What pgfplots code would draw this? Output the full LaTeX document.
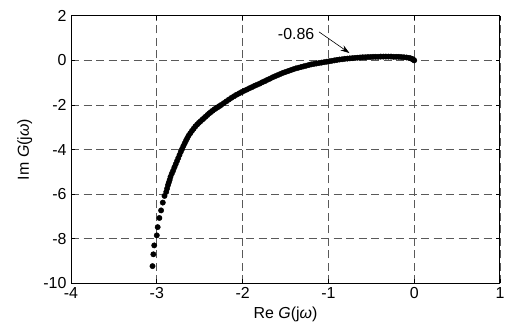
\documentclass[border=0pt]{standalone}
\usepackage{fontspec}
\setmainfont{Liberation Sans}
\usepackage{pgfplots}
\pgfplotsset{compat=1.18}
\usetikzlibrary{arrows.meta}
\begin{document}
\begin{tikzpicture}
\useasboundingbox (0,0) rectangle (505bp,331bp);
\begin{axis}[
  at={(71bp,47.7bp)}, anchor=south west,
  scale only axis, width=429bp, height=267.5bp,
  xmin=-4, xmax=1, ymin=-10, ymax=2,
  xtick={-4,-3,-2,-1,0,1}, xticklabels={-4,-3,-2,-1,0,1},
  ytick={-10,-8,-6,-4,-2,0,2}, yticklabels={-10,-8,-6,-4,-2,0,2},
  grid=major,
  major grid style={dash pattern=on 8bp off 4.5bp, black!65, line width=0.8bp},
  tick align=inside, major tick length=4bp,
  axis line style={line width=1bp},
  every tick/.style={black, line width=0.8bp},
  ticklabel style={font=\fontsize{16}{18}\selectfont},
  xticklabel style={yshift=-1bp},
  yticklabel style={xshift=-1bp},
  label style={font=\fontsize{16}{18}\selectfont},
  xlabel={Re \textit{G}(j\textit{ω})}, ylabel={Im \textit{G}(j\textit{ω})},
  xlabel style={at={(axis description cs:0.5,-0.115)}, anchor=center},
  ylabel style={at={(axis description cs:-0.108,0.5)}, anchor=center},
  clip=false,
]
\addplot[only marks, mark=*, mark size=2.7bp, black] coordinates {
(-3.05,-9.23) (-3.04,-8.70) (-3.03,-8.30) (-3.00,-7.85) (-2.99,-7.48)
(-2.97,-7.07) (-2.95,-6.73) (-2.93,-6.38) (-2.91,-6.08) (-2.89,-5.90)
(-2.88,-5.75) (-2.87,-5.60) (-2.86,-5.48) (-2.85,-5.36) (-2.84,-5.22)
(-2.825,-5.08) (-2.81,-4.95) (-2.795,-4.80) (-2.78,-4.66) (-2.765,-4.52)
(-2.75,-4.38) (-2.735,-4.24) (-2.72,-4.10) (-2.705,-3.97)
(-2.69,-3.84) (-2.675,-3.72) (-2.66,-3.60) (-2.645,-3.49) (-2.63,-3.38)
(-2.61,-3.27) (-2.59,-3.16) (-2.57,-3.06) (-2.55,-2.96) (-2.53,-2.88)
(-2.51,-2.80) (-2.49,-2.73) (-2.47,-2.66) (-2.45,-2.59) (-2.43,-2.52)
(-2.41,-2.45) (-2.39,-2.38) (-2.37,-2.32) (-2.35,-2.26) (-2.33,-2.20)
(-2.31,-2.15) (-2.29,-2.10) (-2.27,-2.05) (-2.25,-2.00)
(-2.22,-1.92) (-2.19,-1.84) (-2.16,-1.76) (-2.13,-1.68) (-2.10,-1.61)
(-2.07,-1.54) (-2.04,-1.48) (-2.01,-1.42) (-1.98,-1.36) (-1.95,-1.31)
(-1.92,-1.25) (-1.89,-1.20) (-1.86,-1.14) (-1.83,-1.09) (-1.80,-1.04)
(-1.77,-0.98) (-1.74,-0.93) (-1.71,-0.87) (-1.68,-0.82) (-1.65,-0.76)
(-1.62,-0.71) (-1.59,-0.66) (-1.56,-0.61) (-1.53,-0.56) (-1.50,-0.52)
(-1.47,-0.48) (-1.44,-0.44) (-1.41,-0.40) (-1.38,-0.36) (-1.35,-0.33)
(-1.32,-0.30) (-1.29,-0.27) (-1.26,-0.24) (-1.23,-0.21) (-1.20,-0.18)
(-1.17,-0.16) (-1.14,-0.14) (-1.11,-0.12) (-1.08,-0.10) (-1.05,-0.08)
(-1.02,-0.06) (-0.99,-0.04) (-0.96,-0.02) (-0.93,0.00) (-0.90,0.02)
(-0.87,0.04) (-0.84,0.05) (-0.81,0.07) (-0.78,0.08) (-0.75,0.09)
(-0.72,0.10) (-0.69,0.11) (-0.66,0.12) (-0.63,0.13) (-0.60,0.14)
(-0.57,0.14) (-0.54,0.15) (-0.51,0.15) (-0.48,0.16) (-0.45,0.16)
(-0.42,0.16) (-0.39,0.17) (-0.36,0.17) (-0.33,0.17) (-0.30,0.17)
(-0.27,0.17) (-0.24,0.16) (-0.21,0.16) (-0.18,0.16) (-0.15,0.15)
(-0.12,0.14) (-0.09,0.13) (-0.06,0.11) (-0.04,0.09) (-0.02,0.06)
(-0.01,0.03) (0.00,0.00)
};
\node[font=\fontsize{16}{18}\selectfont] at (axis cs:-1.376,1.17) {-0.86};
\draw[line width=0.6bp, -{Stealth[length=9bp, width=6bp, inset=3bp]}] (axis cs:-1.11,1.28) -- (axis cs:-0.755,0.33);
\end{axis}
\end{tikzpicture}
\end{document}
